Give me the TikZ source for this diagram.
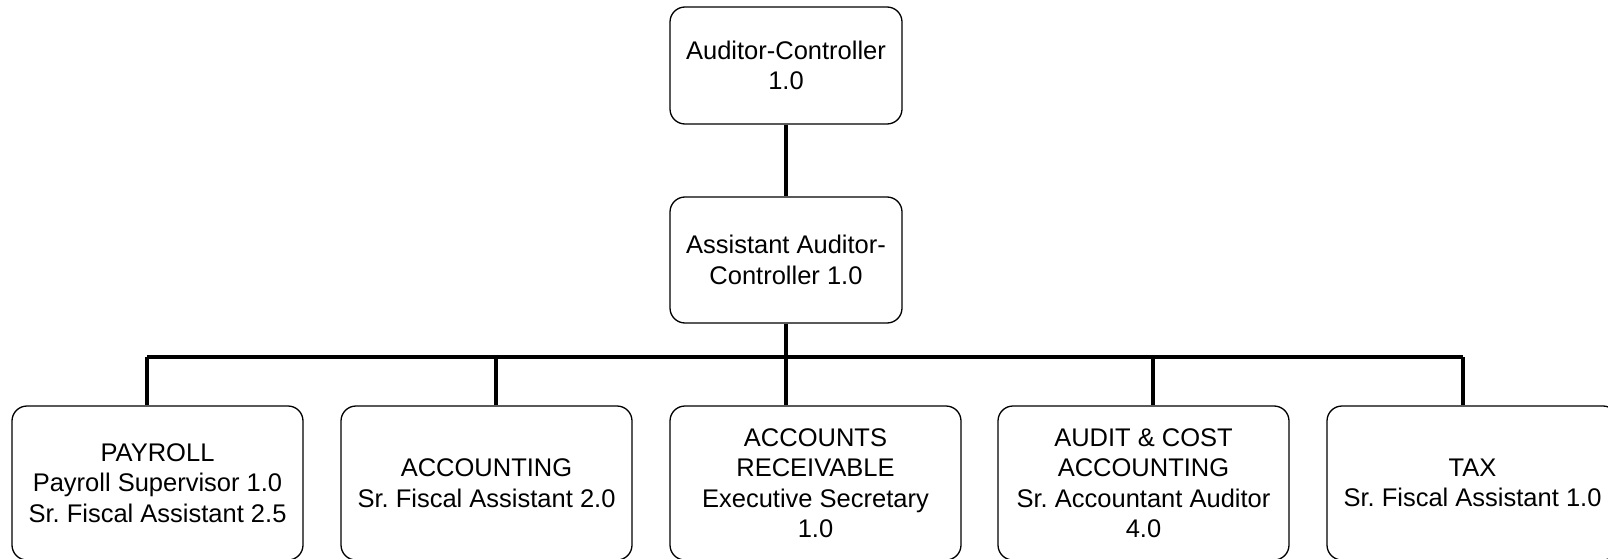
\documentclass[tikz,border=0pt]{standalone}
\usepackage{fontspec}
\setmainfont{Liberation Sans}
\frenchspacing
\begin{document}
\begin{tikzpicture}[x=1pt,y=-1pt,
  orgbox/.style={draw=black, line width=1.3pt, rounded corners=15pt, fill=white,
    align=center, inner sep=0pt, font=\fontsize{25.5}{30.5}\selectfont},
  topbox/.style={orgbox, minimum width=232pt, minimum height=117pt},
  subbox/.style={orgbox, minimum width=291pt, minimum height=154pt},
  link/.style={line width=3.8pt}]
\useasboundingbox (0,0) rectangle (1608,559);
\clip (0,0) rectangle (1608,559);
\fill[white] (0,0) rectangle (1608,559);
\node[topbox] (ac) at (786,65.5) {Auditor-Controller\\1.0};
\node[topbox, minimum height=126pt] (aac) at (786,260) {Assistant Auditor-\\Controller 1.0};
\node[subbox] (pay) at (157.5,483) {PAYROLL\\Payroll Supervisor 1.0\\Sr. Fiscal Assistant 2.5};
\node[subbox] (acc) at (486.5,483) {ACCOUNTING\\Sr. Fiscal Assistant 2.0};
\node[subbox] (ar) at (815.5,483) {ACCOUNTS\\RECEIVABLE\\Executive Secretary\\1.0};
\node[subbox] (aud) at (1143.5,483) {AUDIT \& COST\\ACCOUNTING\\Sr. Accountant Auditor\\4.0};
\node[subbox] (tax) at (1472.5,483) {TAX\\Sr. Fiscal Assistant 1.0};
\coordinate (j1) at (147,357);
\coordinate (j2) at (496,357);
\coordinate (j3) at (786,357);
\coordinate (j4) at (1153,357);
\coordinate (j5) at (1463,357);
\draw[link] (ac.south) -- (aac.north);
\draw[link] (aac.south) -- (j3 |- pay.north);
\draw[link] (j1) -- (j5);
\draw[link] (j1) -- (j1 |- pay.north);
\draw[link] (j2) -- (j2 |- acc.north);
\draw[link] (j4) -- (j4 |- aud.north);
\draw[link] (j5) -- (j5 |- tax.north);
\end{tikzpicture}
\end{document}
